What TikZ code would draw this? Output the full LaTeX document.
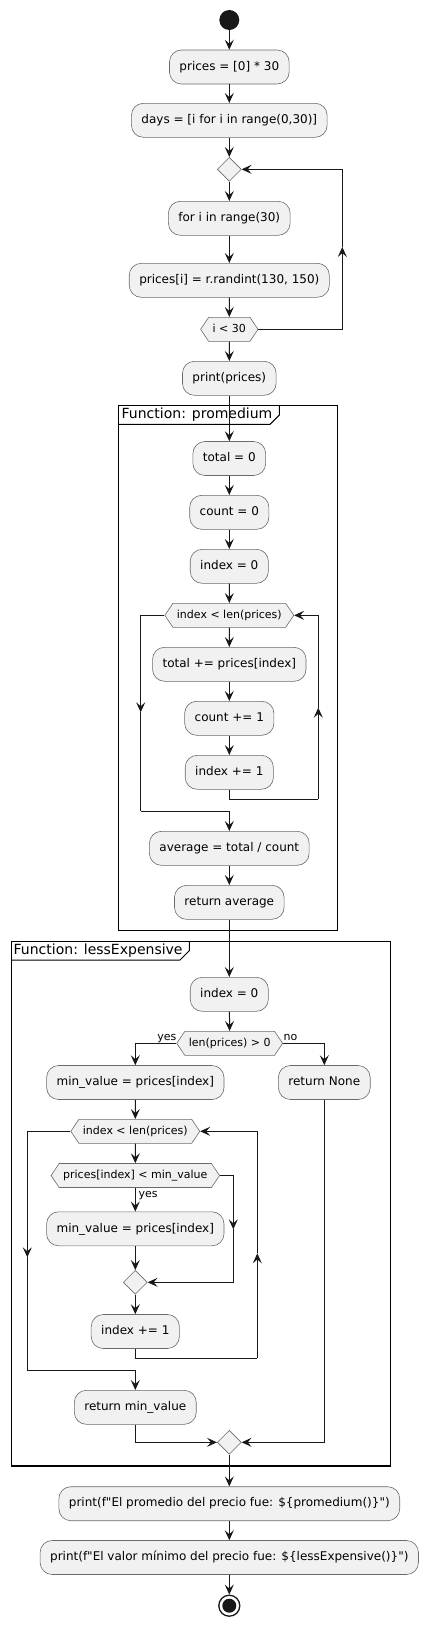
\documentclass[tikz,border=0pt]{standalone}
\usepackage{fontspec}
\setmainfont{DejaVu Sans}[Ligatures=TeXOff]
\usetikzlibrary{arrows.meta,shapes.geometric,shapes.symbols}
\definecolor{boxfill}{HTML}{F1F1F1}
\definecolor{boxline}{HTML}{6A6A6A}
\definecolor{ink}{HTML}{181818}
\begin{document}
\begin{tikzpicture}[x=1pt,y=-1pt,
  box/.style={draw=boxline, fill=boxfill, rounded corners=12pt, minimum height=34pt,
    inner xsep=10pt, inner ysep=0pt, line width=0.6pt, font=\fontsize{12}{14}\selectfont,
    text height=9pt, text depth=2.5pt},
  hexa/.style={signal, signal to=east and west, signal pointer angle=112, draw=boxline, fill=boxfill,
    line width=0.6pt, font=\fontsize{11}{13}\selectfont, inner xsep=4pt, inner ysep=6.75pt,
    text height=8pt, text depth=2.5pt},
  dia/.style={diamond, aspect=1, minimum size=24pt, inner sep=0pt, draw=boxline, fill=boxfill, line width=0.6pt},
  line/.style={draw=ink, line width=1pt},
  arr/.style={line, -{Stealth[length=10pt, width=9pt, inset=4pt]}},
  lbl/.style={font=\fontsize{11}{13}\selectfont, inner sep=0pt},
  frametitle/.style={font=\fontsize{14}{16}\selectfont, inner sep=0pt, anchor=west},
  frameline/.style={draw=black, line width=1.5pt}
]
\useasboundingbox (0,0) rectangle (428,1626);

% frames
\draw[frameline] (118.3,405.3) rectangle (337.7,930.7);
\draw[draw=black, line width=1pt] (118.3,424.3) -- (270,424.3) -- (279.3,415) -- (279.3,405.3);
\node[frametitle] (ft1) at (121.5,414.5) {Function: promedium};

\draw[frameline] (11.7,941.3) rectangle (390.3,1466);
\draw[draw=black, line width=1pt] (11.7,960) -- (180,960) -- (189.3,950.7) -- (189.3,941.3);
\node[frametitle] (ft2) at (13.5,950.5) {Function: lessExpensive};

% nodes
\node[circle, fill=ink, minimum size=20pt, inner sep=0pt] (start) at (229.3,20) {};
\node[box] (p1) at (229.3,67) {prices = [0] * 30};
\node[box] (p2) at (229.3,120.3) {days = [i for i in range(0,30)]};
\node[dia] (d1) at (229.3,169.3) {};
\node[box] (p3) at (229.3,218.3) {for i in range(30)};
\node[box] (p4) at (229.3,280.3) {prices[i] = r.randint(130, 150)};
\node[hexa] (h1) at (229.3,329.3) {i < 30};
\node[box] (p5) at (229.3,378.3) {print(prices)};

\node[box] (t1) at (229.3,458.5) {total = 0};
\node[box] (t2) at (229.3,512.3) {count = 0};
\node[box] (t3) at (229.3,566.3) {index = 0};
\node[hexa] (h2) at (229.3,615.3) {index < len(prices)};
\node[box] (t4) at (229.3,664.3) {total += prices[index]};
\node[box] (t5) at (229.3,718.3) {count += 1};
\node[box] (t6) at (229.3,772.3) {index += 1};
\node[box] (avg) at (229.3,848.3) {average = total / count};
\node[box] (ret) at (229.3,902.3) {return average};

\node[box] (e0) at (229.3,994.3) {index = 0};
\node[hexa] (h3) at (229.7,1043.3) {len(prices) > 0};
\node[box] (mv1) at (135.3,1082.5) {min\_value = prices[index]};
\node[box] (rn) at (324.3,1082.5) {return None};
\node[hexa] (h4) at (135.3,1131.3) {index < len(prices)};
\node[hexa] (h5) at (135.3,1175.5) {prices[index] < min\_value};
\node[box] (mv2) at (135.3,1228.8) {min\_value = prices[index]};
\node[dia] (d2) at (135.3,1282.3) {};
\node[box] (i2) at (135.3,1331.5) {index += 1};
\node[box] (rmv) at (135.3,1407.3) {return min\_value};
\node[dia] (d3) at (229.3,1442.3) {};

\node[box] (pr1) at (229.3,1503.7) {print(f"El promedio del precio fue: \$\{promedium()\}")};
\node[box] (pr2) at (229.3,1557.5) {print(f"El valor mínimo del precio fue: \$\{lessExpensive()\}")};
\node[circle, draw=ink, line width=1.3pt, fill=white, minimum size=21pt, inner sep=0pt] (end) at (229.3,1605.7) {};
\node[circle, fill=ink, minimum size=14pt, inner sep=0pt] (endin) at (229.3,1605.7) {};

% labels
\node[lbl, anchor=base east] (yes1) at (176.5,1040.5) {yes};
\node[lbl, anchor=base west] (no1) at (283.5,1040.5) {no};
\node[lbl, anchor=base west] (yes2) at (138.5,1197) {yes};

% helper coordinates
\coordinate (m1) at (342.3,247);
\coordinate (m2) at (140.7,712.3);
\coordinate (c1) at (140.7,811.3);
\coordinate (c2) at (318.3,799);
\coordinate (m3) at (318.3,707.7);
\coordinate (m4) at (27.3,1257.3);
\coordinate (c3) at (27.3,1370);
\coordinate (c4) at (257.3,1358.3);
\coordinate (m6) at (257.3,1253.3);
\coordinate (m5) at (233.3,1229.3);

% connectors
\draw[arr] (start) -- (p1);
\draw[arr] (p1) -- (p2);
\draw[arr] (p2) -- (d1);
\draw[arr] (d1) -- (p3);
\draw[arr] (p3) -- (p4);
\draw[arr] (p4) -- (h1);
\draw[arr] (h1.east) -| (m1);
\draw[arr] (m1) |- (d1.east);
\draw[arr] (h1) -- (p5);
\draw[arr] (p5) -- (t1);
\draw[arr] (t1) -- (t2);
\draw[arr] (t2) -- (t3);
\draw[arr] (t3) -- (h2);
\draw[arr] (h2) -- (t4);
\draw[arr] (t4) -- (t5);
\draw[arr] (t5) -- (t6);
\draw[line] (t6.south) |- (c2);
\draw[arr] (c2) -- (m3);
\draw[arr] (m3) |- (h2.east);
\draw[arr] (h2.west) -| (m2);
\draw[line] (m2) -- (c1);
\draw[arr] (c1) -| (avg.north);
\draw[arr] (avg) -- (ret);
\draw[arr] (ret) -- (e0);
\draw[arr] (e0) -- (h3);
\draw[arr] (h3.west) -| (mv1.north);
\draw[arr] (h3.east) -| (rn.north);
\draw[arr] (mv1) -- (h4);
\draw[arr] (h4) -- (h5);
\draw[arr] (h5) -- (mv2);
\draw[arr] (h5.east) -| (m5);
\draw[arr] (m5) |- (d2.east);
\draw[arr] (mv2) -- (d2);
\draw[arr] (d2) -- (i2);
\draw[line] (i2.south) |- (c4);
\draw[arr] (c4) -- (m6);
\draw[arr] (m6) |- (h4.east);
\draw[arr] (h4.west) -| (m4);
\draw[line] (m4) -- (c3);
\draw[arr] (c3) -| (rmv.north);
\draw[arr] (rmv.south) |- (d3.west);
\draw[arr] (rn.south) |- (d3.east);
\draw[arr] (d3) -- (pr1);
\draw[arr] (pr1) -- (pr2);
\draw[arr] (pr2) -- (end);
\end{tikzpicture}
\end{document}
